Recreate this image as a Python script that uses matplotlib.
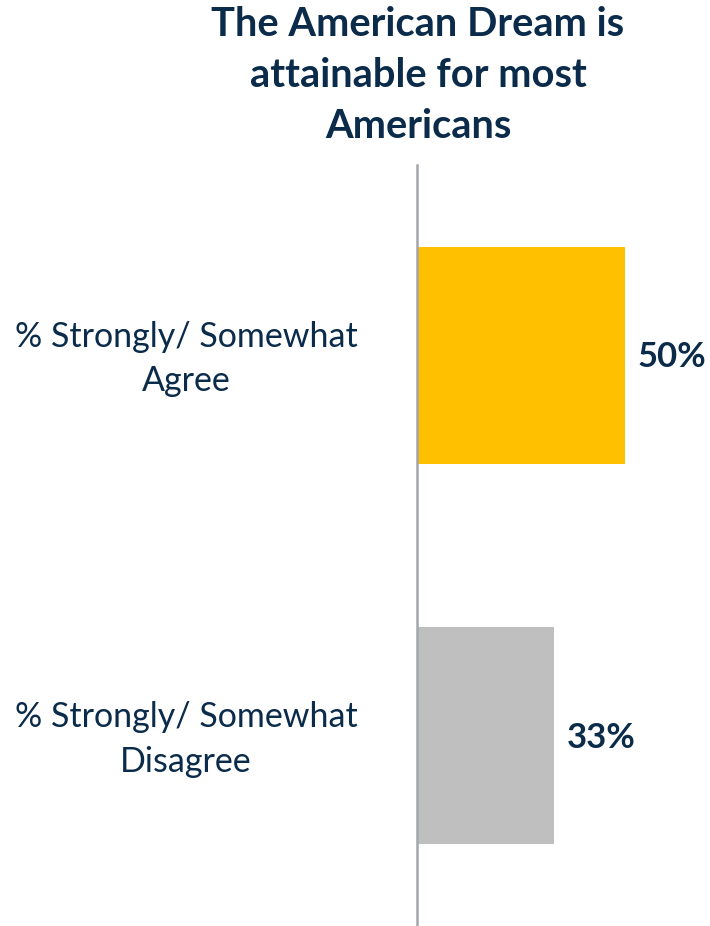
import matplotlib.pyplot as plt
import matplotlib.transforms as mtransforms

categorias = ["% Strongly/ Somewhat\nAgree", "% Strongly/ Somewhat\nDisagree"]
valores = [50, 33]
colores = ["#FFC000", "#BFBFBF"]
titulo = "The American Dream is\nattainable for most\nAmericans"

navy = "#0B2B4A"
fuente = "Lato"

fig = plt.figure(figsize=(7.10, 9.26), dpi=100)
ax = fig.add_axes([417 / 710, 0, 293 / 710, 761 / 926])

y = list(range(len(valores)))
ax.barh(y, valores, height=0.57, color=colores)
ax.set_xlim(0, 293 / 4.16)
ax.set_ylim(1.5, -0.5)

for s in ["top", "right", "bottom"]:
    ax.spines[s].set_visible(False)
ax.spines["left"].set_color("#A3A6AE")
ax.spines["left"].set_linewidth(1.8)
ax.set_xticks([])
ax.set_yticks([])

for i, v in enumerate(valores):
    ax.text(v + 2.9, i + 0.005, f"{v}%", va="center", ha="left",
            fontsize=25, fontweight="bold", color=navy, family=fuente)

trans = mtransforms.blended_transform_factory(fig.transFigure, ax.transData)
for i, c in enumerate(categorias):
    ax.text(186 / 710, i + 0.01, c, transform=trans, ha="center", va="center",
            fontsize=24.5, color=navy, family=fuente, linespacing=1.48)

fig.text(418 / 710, 1 - 6 / 926, titulo, ha="center", va="top",
         fontsize=28.7, fontweight="bold", color=navy, family=fuente,
         linespacing=1.46)

fig.savefig("out.png", dpi=100)
